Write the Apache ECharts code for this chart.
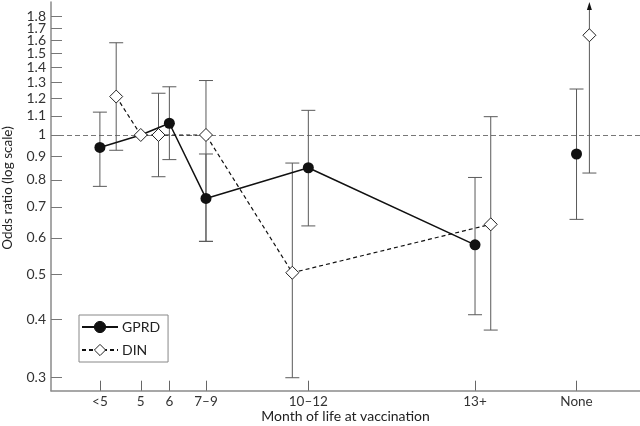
<!DOCTYPE html>
<html>
<head>
<meta charset="utf-8">
<script src="https://cdn.jsdelivr.net/npm/echarts@6/dist/echarts.min.js"></script>
<style>
html,body{margin:0;padding:0;background:#fff;}
#chart{width:640px;height:426px;}
</style>
</head>
<body>
<div id="chart"></div>
<script>
// ---- data (odds ratios) ----
const categories = ['<5', '5', '6', '7–9', '10–12', '13+', 'None'];
// position of each category along the (month-like) x axis
const catPos = [3.57, 5, 6, 7.28, 10.86, 16.69, 20.24];
const gprdX = [3.57, 5, 6, 7.28, 10.86, 16.69, 20.24];
const gprdOR = [0.94, 1.0, 1.06, 0.73, 0.85, 0.58, 0.91];
const gprdLow = [0.775, null, 0.885, 0.59, 0.637, 0.41, 0.658];
const gprdHigh = [1.12, null, 1.27, 0.91, 1.13, 0.81, 1.256];
const dinX = [4.14, 5, 5.62, 7.28, 10.30, 17.24, 20.69];
const dinOR = [1.21, 1.0, 1.0, 1.0, 0.505, 0.642, 1.64];
const dinLow = [0.927, null, 0.813, 0.59, 0.30, 0.38, 0.828];
const dinHigh = [1.58, null, 1.23, 1.31, 0.87, 1.095, 'off']; // 'off' = beyond the axis (arrow)
const yTicks = [0.3, 0.4, 0.5, 0.6, 0.7, 0.8, 0.9, 1, 1.1, 1.2, 1.3, 1.4, 1.5, 1.6, 1.7, 1.8];
const yTitle = 'Odds ratio (log scale)';
const yMin = 0.2813, yMax = 1.934;
const xMin = 1.86, xMax = 22.46;

// ---- helpers ----
const L = Math.log;
const FONT = 'Lato';
const TXT = '#333';
const AX = '#8a8a8a';

function trajectory(xs, ys, n) {
  const out = [];
  for (let i = 0; i < n; i++) out.push({ value: [xs[i], L(ys[i])] });
  return out;
}
function errData(xs, lo, hi) {
  const out = [];
  for (let i = 0; i < xs.length; i++) {
    if (lo[i] == null) continue;
    const arrow = hi[i] === 'off' ? 1 : 0;
    out.push([xs[i], L(lo[i]), arrow ? L(yMax) : L(hi[i]), arrow]);
  }
  return out;
}
function renderErr(params, api) {
  const x = api.value(0), lo = api.value(1), hi = api.value(2), arrow = api.value(3);
  const pLo = api.coord([x, lo]);
  const pHi = api.coord([x, hi]);
  const hw = 7;
  const st = { stroke: '#5a5a5a', lineWidth: 1 };
  const children = [];
  const topY = arrow ? pHi[1] + 7 : pHi[1];
  children.push({ type: 'line', shape: { x1: pLo[0], y1: pLo[1], x2: pHi[0], y2: topY }, style: st });
  children.push({ type: 'line', shape: { x1: pLo[0] - hw, y1: pLo[1], x2: pLo[0] + hw, y2: pLo[1] }, style: st });
  if (arrow) {
    children.push({ type: 'polygon', shape: { points: [[pHi[0], pHi[1]], [pHi[0] - 2.5, pHi[1] + 8], [pHi[0] + 2.5, pHi[1] + 8]] }, style: { fill: '#111' } });
  } else {
    children.push({ type: 'line', shape: { x1: pHi[0] - hw, y1: pHi[1], x2: pHi[0] + hw, y2: pHi[1] }, style: st });
  }
  return { type: 'group', children };
}

const nTraj = 6; // <5 .. 13+ are joined; "None" stands alone
const gprdTraj = trajectory(gprdX, gprdOR, nTraj);
gprdTraj[1].symbol = 'none'; // reference category, hidden under the DIN marker
const dinTraj = trajectory(dinX, dinOR, nTraj);
// label positions: the ticks plus an empty label at the axis top, so 1.7/1.8 are both kept
const yLabelVals = yTicks.map(L).concat([L(yMax)]);

const chart = echarts.init(document.getElementById('chart'), null, { renderer: 'canvas' });
chart.setOption({
  animation: false,
  backgroundColor: '#fff',
  textStyle: { fontFamily: FONT },
  grid: { left: 51, right: 0, top: 2, bottom: 35.3, containLabel: false, outerBoundsMode: 'none' },
  graphic: [{
    type: 'text', x: 8, y: 188, rotation: Math.PI / 2, silent: true,
    style: { text: yTitle, font: '13.5px Lato', fill: '#222', align: 'center', verticalAlign: 'middle' }
  }],
  legend: {
    data: ['GPRD', 'DIN'],
    orient: 'vertical',
    left: 79, top: 315,
    itemWidth: 36, itemHeight: 14, itemGap: 9,
    padding: [5, 8, 5, 2],
    borderColor: '#888', borderWidth: 1,
    textStyle: { fontFamily: FONT, fontSize: 14, color: '#222', padding: [0, 0, 0, -1] },
    itemStyle: { borderWidth: 1 }
  },
  xAxis: {
    type: 'value', min: xMin, max: xMax,
    name: 'Month of life at vaccination',
    nameLocation: 'middle', nameGap: 19, nameMoveOverlap: false,
    nameTextStyle: { fontFamily: FONT, fontSize: 14, color: '#222' },
    splitLine: { show: false },
    axisLine: { onZero: false, lineStyle: { color: AX, width: 1.5 } },
    axisTick: { inside: true, length: 10, customValues: catPos, lineStyle: { color: '#666' } },
    axisLabel: {
      customValues: catPos, margin: 4, fontFamily: FONT, fontSize: 13.5, color: TXT,
      formatter: function (v) {
        let best = 0;
        for (let i = 1; i < catPos.length; i++) if (Math.abs(catPos[i] - v) < Math.abs(catPos[best] - v)) best = i;
        return categories[best];
      }
    }
  },
  yAxis: {
    type: 'value', min: L(yMin), max: L(yMax),
    splitLine: { show: false },
    axisLine: { show: true, onZero: false, lineStyle: { color: AX, width: 1.5 } },
    axisTick: { show: true, inside: true, length: 11, customValues: yTicks.map(L), lineStyle: { color: '#777' } },
    axisLabel: {
      customValues: yLabelVals, margin: 5, fontFamily: FONT, fontSize: 14, lineHeight: 10, color: TXT,
      showMinLabel: true, showMaxLabel: true, hideOverlap: false,
      formatter: function (v) {
        if (v > L(1.85)) return '';
        return String(Number(Math.exp(v).toFixed(1)));
      }
    }
  },
  series: [
    {
      type: 'custom', name: 'gprdErr', renderItem: renderErr, data: errData(gprdX, gprdLow, gprdHigh),
      encode: { x: 0, y: [1, 2] }, z: 1, silent: true
    },
    {
      type: 'custom', name: 'dinErr', renderItem: renderErr, data: errData(dinX, dinLow, dinHigh),
      encode: { x: 0, y: [1, 2] }, z: 1, silent: true
    },
    {
      type: 'line', name: 'GPRD', data: gprdTraj, z: 3,
      symbol: 'circle', symbolSize: 11,
      lineStyle: { color: '#111', width: 1.5 },
      itemStyle: { color: '#111', borderColor: '#111', borderWidth: 0 },
      markLine: {
        silent: true, symbol: 'none', label: { show: false },
        lineStyle: { color: '#777', type: [5, 3], width: 1 },
        data: [{ yAxis: 0 }], z: 0
      }
    },
    {
      type: 'scatter', name: 'GPRDnone', data: [[gprdX[6], L(gprdOR[6])]], z: 3,
      symbol: 'circle', symbolSize: 11, itemStyle: { color: '#111', opacity: 1 }
    },
    {
      type: 'line', name: 'DIN', data: dinTraj, z: 4,
      symbol: 'diamond', symbolSize: 13,
      lineStyle: { color: '#111', width: 1.2, type: [4, 3] },
      itemStyle: { color: '#fff', borderColor: '#222', borderWidth: 1 }
    },
    {
      type: 'scatter', name: 'DINnone', data: [[dinX[6], L(dinOR[6])]], z: 4,
      symbol: 'diamond', symbolSize: 13,
      itemStyle: { color: '#fff', borderColor: '#222', borderWidth: 1, opacity: 1 }
    }
  ]
});
</script>
</body>
</html>
